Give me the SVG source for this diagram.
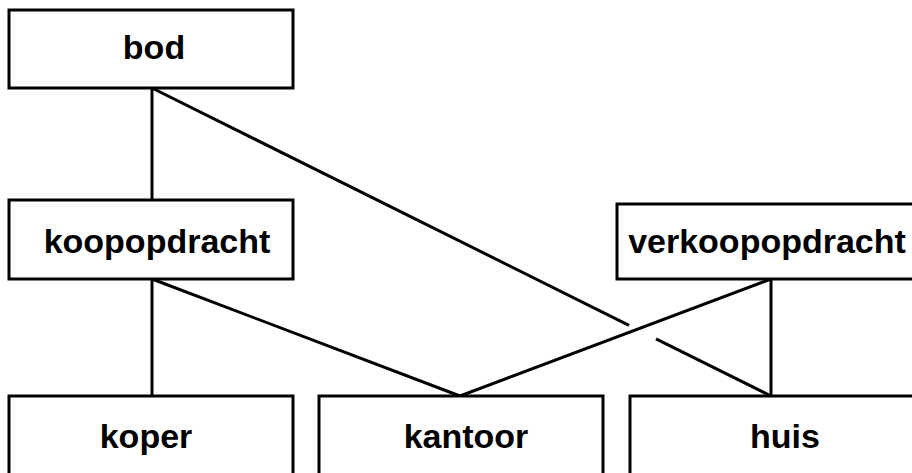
<svg xmlns="http://www.w3.org/2000/svg" width="912" height="473" viewBox="0 0 912 473">
  <style>
    .box { fill: #ffffff; stroke: #000000; stroke-width: 3; }
    .lbl { font-family: "Liberation Sans", Arial, sans-serif; font-weight: bold; font-size: 34px; fill: #000000; text-anchor: middle; }
    .edge { stroke: #000000; stroke-width: 3; fill: none; }
  </style>
  <rect width="912" height="473" fill="#ffffff"/>

  <g id="connectors">
    <line class="edge" x1="152" y1="88" x2="152" y2="200"/>
    <line class="edge" x1="152" y1="279" x2="152" y2="396"/>
    <line class="edge" x1="152" y1="279" x2="460" y2="396"/>
    <line class="edge" x1="771" y1="279" x2="460" y2="396"/>
    <line class="edge" x1="771" y1="279" x2="771" y2="396"/>
    <!-- bod to huis, with a gap where it passes behind verkoopopdracht-kantoor -->
    <line class="edge" x1="152" y1="88" x2="629" y2="325.3"/>
    <line class="edge" x1="656" y1="338.8" x2="771" y2="396"/>
  </g>

  <g id="bod">
    <rect class="box" x="9" y="10" width="284" height="78"/>
    <text class="lbl" x="154" y="59">bod</text>
  </g>
  <g id="koopopdracht">
    <rect class="box" x="9" y="200" width="284" height="79"/>
    <text class="lbl" x="157" y="253">koopopdracht</text>
  </g>
  <g id="verkoopopdracht">
    <rect class="box" x="617" y="204" width="310" height="75"/>
    <text class="lbl" x="767" y="253">verkoopopdracht</text>
  </g>
  <g id="koper">
    <rect class="box" x="9" y="396" width="284" height="90"/>
    <text class="lbl" x="146" y="448">koper</text>
  </g>
  <g id="kantoor">
    <rect class="box" x="319" y="396" width="284" height="90"/>
    <text class="lbl" x="466" y="448">kantoor</text>
  </g>
  <g id="huis">
    <rect class="box" x="630" y="396" width="300" height="90"/>
    <text class="lbl" x="785" y="448">huis</text>
  </g>
</svg>
